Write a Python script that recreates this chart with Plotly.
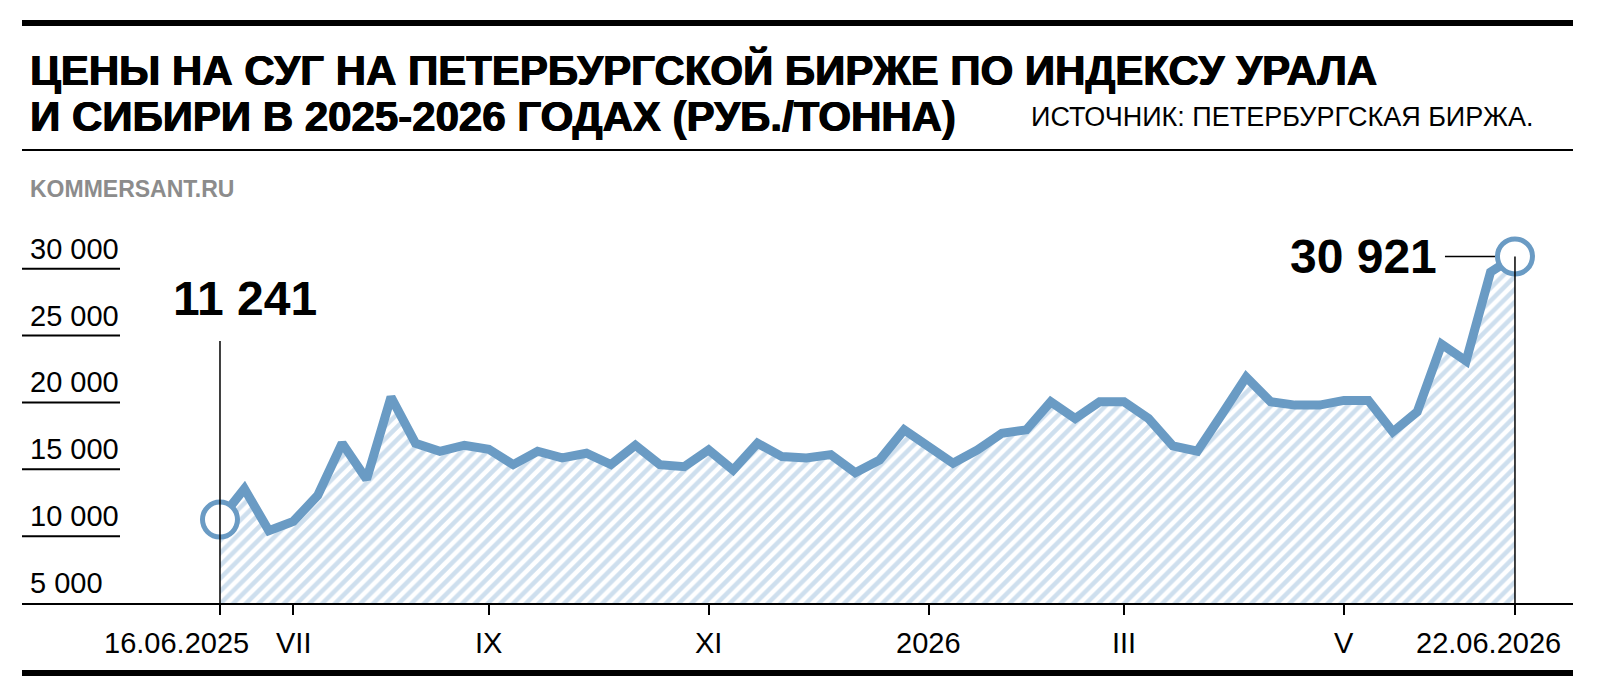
import pandas as pd
import plotly.graph_objects as go

# weekly prices, Petersburg exchange, Urals & Siberia index (rub/t)
dates = pd.date_range("2025-06-16", periods=54, freq="7D")
prices = [11241, 13550, 10400, 11100, 13050, 16950, 14250, 20400, 16950, 16350,
          16800, 16500, 15350, 16350, 15850, 16200, 15350, 16800, 15350, 15200,
          16450, 14950, 16950, 15950, 15850, 16100, 14750, 15700, 17950, 16700,
          15450, 16450, 17700, 17950, 20050, 18800, 20050, 20050, 18800, 16750,
          16350, 19100, 21900, 20050, 19800, 19800, 20150, 20150, 17800, 19300,
          24350, 23100, 29750, 30921]

tick_dates = ["2025-06-16", "2025-07-07", "2025-09-01", "2025-11-03",
              "2026-01-05", "2026-03-02", "2026-05-04", "2026-06-22"]
tick_labels = ["16.06.2025", "VII", "IX", "XI", "2026", "III", "V", "22.06.2026"]
y_ticks = [5000, 10000, 15000, 20000, 25000, 30000]
y_labels = ["5 000", "10 000", "15 000", "20 000", "25 000", "30 000"]

BLUE = "#6a9bc4"
SANS = "Liberation Sans, Arial, sans-serif"

# plot area in pixels
L, R, T, B = 14, 1565, 234, 595


def px(p):
    return (p - L) / (R - L)


def py(p):
    return (B - p) / (B - T)


def font(size, weight=400, color="black", **kw):
    return dict(family=SANS, size=size, color=color, weight=weight, **kw)


fig = go.Figure()
fig.add_trace(go.Scatter(
    x=dates, y=prices, mode="lines",
    line=dict(color=BLUE, width=9),
    fill="tozeroy",
    fillpattern=dict(shape="/", fgcolor="#9dbfdd", bgcolor="white",
                     size=9, solidity=0.5),
    hoverinfo="skip",
))
fig.add_trace(go.Scatter(
    x=[dates[0], dates[-1]], y=[prices[0], prices[-1]], mode="markers",
    marker=dict(size=35, color="white", line=dict(color=BLUE, width=5)),
    cliponaxis=False, hoverinfo="skip",
))

shapes = [
    dict(type="line", xref="paper", yref="paper", x0=0, x1=1, y0=py(15), y1=py(15),
         line=dict(color="black", width=6)),
    dict(type="line", xref="paper", yref="paper", x0=0, x1=1, y0=py(142), y1=py(142),
         line=dict(color="black", width=2)),
    dict(type="line", xref="paper", yref="paper", x0=0, x1=1, y0=py(665), y1=py(665),
         line=dict(color="black", width=6)),
    dict(type="line", xref="x", yref="paper", x0=dates[0], x1=dates[0],
         y0=0, y1=py(333), line=dict(color="black", width=1.5)),
    dict(type="line", xref="x", yref="y", x0=dates[-1], x1=dates[-1],
         y0=5000, y1=prices[-1], line=dict(color="black", width=1.5)),
    dict(type="line", xref="x", yref="y", xsizemode="pixel", xanchor=dates[-1],
         x0=-70, x1=-20, y0=prices[-1], y1=prices[-1],
         line=dict(color="black", width=1.5)),
]
for v in y_ticks[1:]:
    shapes.append(dict(type="line", xref="paper", yref="y", x0=0, x1=px(112),
                       y0=v, y1=v, line=dict(color="black", width=2)))

title_font = font(42, 700, shadow="0.8px 0 0 black, -0.4px 0 0 black")
annotations = [
    dict(text="ЦЕНЫ НА СУГ НА ПЕТЕРБУРГСКОЙ БИРЖЕ ПО ИНДЕКСУ УРАЛА",
         xref="paper", yref="paper", x=px(20), y=py(62), xanchor="left", yanchor="middle",
         showarrow=False, font=title_font),
    dict(text="И СИБИРИ В 2025-2026 ГОДАХ (РУБ./ТОННА)",
         xref="paper", yref="paper", x=px(20), y=py(108), xanchor="left", yanchor="middle",
         showarrow=False, font=title_font),
    dict(text="ИСТОЧНИК: ПЕТЕРБУРГСКАЯ БИРЖА.",
         xref="paper", yref="paper", x=px(1021), y=py(109), xanchor="left", yanchor="middle",
         showarrow=False, font=font(27)),
    dict(text="KOMMERSANT.RU",
         xref="paper", yref="paper", x=px(20), y=py(181), xanchor="left", yanchor="middle",
         showarrow=False, font=font(23, 700, "#8c8c8c")),
    dict(text="11 241", xref="x", yref="paper", x=dates[0], xshift=25,
         y=py(290), xanchor="center", yanchor="middle", showarrow=False,
         font=font(48, 700)),
    dict(text="30 921", xref="x", yref="y", x=dates[-1], xshift=-76,
         y=prices[-1], xanchor="right", yanchor="middle", showarrow=False,
         font=font(48, 700)),
]
for v, lab in zip(y_ticks, y_labels):
    annotations.append(dict(text=lab, xref="paper", yref="y", x=px(20), y=v,
                            xanchor="left", yanchor="bottom", yshift=2,
                            showarrow=False, font=font(29)))

# month labels under the axis; the two end dates are pulled left as in print
label_shift = [-43, 0, 0, 0, 0, 0, 0, -26]
for d, lab, sh in zip(tick_dates, tick_labels, label_shift):
    annotations.append(dict(text=lab, xref="x", yref="paper", x=d, xshift=sh,
                            y=py(635), xanchor="center", yanchor="middle",
                            showarrow=False, font=font(29)))

fig.update_layout(
    width=1600, height=700,
    margin=dict(l=L, r=1600 - R, t=T, b=700 - B),
    paper_bgcolor="white", plot_bgcolor="white",
    showlegend=False,
    shapes=shapes, annotations=annotations,
    xaxis=dict(type="date", range=["2025-04-20 06:40", "2026-07-08 15:00"],
               tickvals=tick_dates, showticklabels=False, automargin=False,
               ticks="outside", ticklen=10, tickwidth=2, tickcolor="black",
               showline=True, linecolor="black", linewidth=2,
               showgrid=False, zeroline=False),
    yaxis=dict(range=[5000, 32000], showticklabels=False, showgrid=False,
               zeroline=False, showline=False, automargin=False),
)

fig.write_html("out.html")
